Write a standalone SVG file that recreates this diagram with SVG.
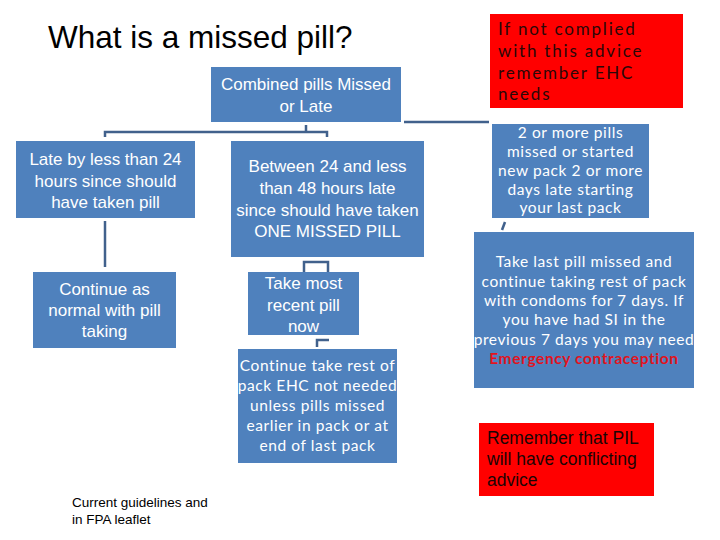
<svg xmlns="http://www.w3.org/2000/svg" width="720" height="540" viewBox="0 0 720 540">
<style>
.blue{fill:#4F81BD}
.red{fill:#FF0000}
.a{font-family:"Liberation Sans",Arial,sans-serif;font-size:17px;fill:#FFFFFF;text-anchor:middle}
.c{font-family:Lato,"Open Sans",sans-serif;font-size:15.5px;letter-spacing:0.6px;fill:#FFFFFF;text-anchor:middle}
.rt{font-family:Lato,"Open Sans",sans-serif;font-size:17px;fill:#2A0808;letter-spacing:1.8px}
.ra{font-family:"Liberation Sans",Arial,sans-serif;font-size:17.5px;fill:#1A0505}
.em{font-weight:bold;fill:#E0141E}
.conn{fill:none;stroke:#41618C;stroke-width:2.5}
</style>
<rect width="720" height="540" fill="#FFFFFF"/>
<text x="48" y="48" font-family="'Liberation Sans',Arial,sans-serif" font-size="31.5" fill="#000000">What is a missed pill?</text>
<g id="connectors">
<path class="conn" d="M105,137 V132 H327 V137 M306,125 V132"/>
<path class="conn" d="M404,122 H489" stroke-width="2"/>
<path class="conn" d="M105,221 V267"/>
<path class="conn" d="M304,272 V262 H328 V272"/>
<path class="conn" d="M317,347 V340 H329"/>
<path class="conn" d="M505,222 L502,230"/>
</g>
<g id="n-combined">
<rect class="blue" x="211" y="67" width="190" height="55"/>
<text class="a" x="306" y="90">Combined pills Missed</text>
<text class="a" x="306" y="112">or Late</text>
</g>
<g id="n-late24">
<rect class="blue" x="16" y="141" width="179" height="77"/>
<text class="a" x="105.5" y="165">Late by less than 24</text>
<text class="a" x="105.5" y="187">hours since should</text>
<text class="a" x="105.5" y="208">have taken pill</text>
</g>
<g id="n-continue-normal">
<rect class="blue" x="33" y="272" width="143" height="76"/>
<text class="a" x="104.5" y="295">Continue as</text>
<text class="a" x="104.5" y="316">normal with pill</text>
<text class="a" x="104.5" y="337">taking</text>
</g>
<g id="n-between">
<rect class="blue" x="231" y="141" width="193" height="116"/>
<text class="a" x="327.5" y="172">Between 24 and less</text>
<text class="a" x="327.5" y="194">than  48 hours  late</text>
<text class="a" x="327.5" y="216">since should have taken</text>
<text class="a" x="327.5" y="237">ONE MISSED PILL</text>
</g>
<g id="n-take-recent">
<rect class="blue" x="248" y="272" width="111" height="63"/>
<text class="a" x="303.5" y="289" font-size="17.5">Take most</text>
<text class="a" x="303.5" y="311" font-size="17.5">recent pill</text>
<text class="a" x="303.5" y="332" font-size="17.5">now</text>
</g>
<g id="n-continue-rest">
<rect class="blue" x="238" y="349" width="159" height="114"/>
<text class="c" x="317.5" y="371">Continue take rest of</text>
<text class="c" x="317.5" y="391">pack EHC not needed</text>
<text class="c" x="317.5" y="411">unless pills missed</text>
<text class="c" x="317.5" y="431">earlier in pack or at</text>
<text class="c" x="317.5" y="451">end of last pack</text>
</g>
<g id="n-ehc-note">
<rect class="red" x="490" y="14" width="193" height="94"/>
<text class="rt" x="498" y="35">If not complied</text>
<text class="rt" x="498" y="57">with this advice</text>
<text class="rt" x="498" y="79">remember EHC</text>
<text class="rt" x="498" y="100">needs</text>
</g>
<g id="n-two-or-more">
<rect class="blue" x="492" y="124" width="157" height="94"/>
<text class="c" x="570.5" y="138">2 or more pills</text>
<text class="c" x="570.5" y="157">missed or started</text>
<text class="c" x="570.5" y="176">new pack 2 or more</text>
<text class="c" x="570.5" y="194.5">days late starting</text>
<text class="c" x="570.5" y="213">your last pack</text>
</g>
<g id="n-take-last">
<rect class="blue" x="474" y="232" width="220" height="156"/>
<text class="c" x="584" y="267">Take last pill missed and</text>
<text class="c" x="584" y="287">continue taking rest of pack</text>
<text class="c" x="584" y="306">with condoms for 7 days. If</text>
<text class="c" x="584" y="325">you have had SI in the</text>
<text class="c" x="584" y="345">previous 7 days you may need</text>
<text class="c em" x="584" y="364">Emergency contraception</text>
</g>
<g id="n-pil-note">
<rect class="red" x="479" y="423" width="175" height="73"/>
<text class="ra" x="487" y="444">Remember that PIL</text>
<text class="ra" x="487" y="465">will have conflicting</text>
<text class="ra" x="487" y="486">advice</text>
</g>
<g id="footnote">
<text x="72" y="507" font-family="'Liberation Sans',Arial,sans-serif" font-size="13.5" fill="#000000">Current guidelines and</text>
<text x="72" y="524" font-family="'Liberation Sans',Arial,sans-serif" font-size="13.5" fill="#000000">in FPA leaflet</text>
</g>
</svg>
